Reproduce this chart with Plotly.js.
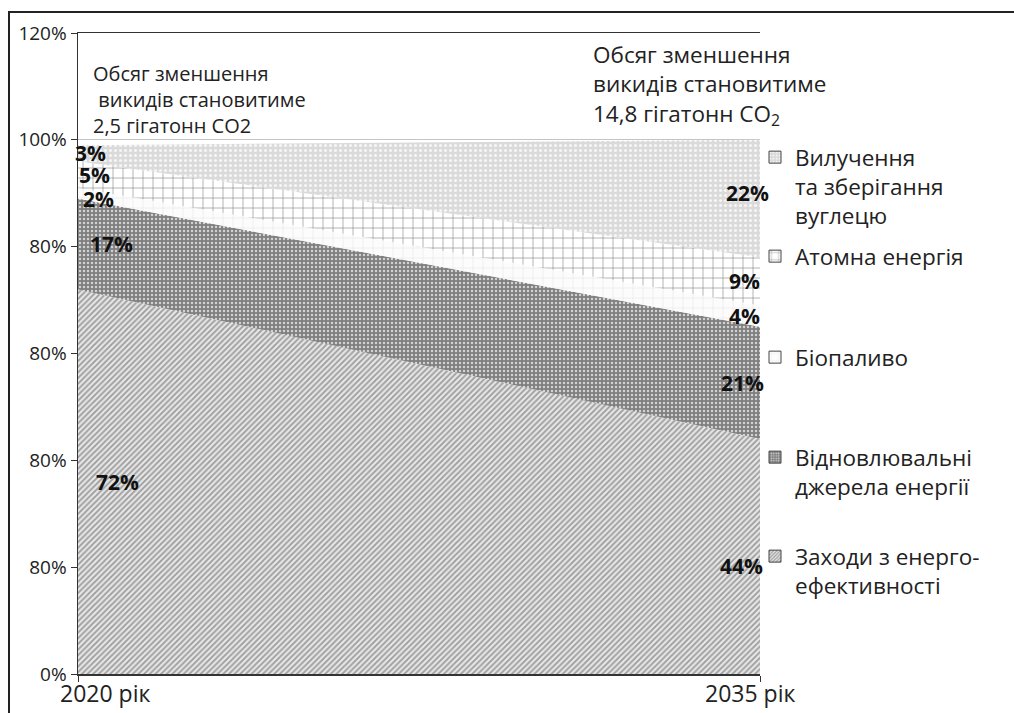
<!DOCTYPE html>
<html>
<head>
<meta charset="utf-8">
<script src="https://cdn.plot.ly/plotly-3.0.1.min.js"></script>
<style>
  html, body { margin: 0; padding: 0; background: #fff; overflow: hidden; }
  #wrap { position: relative; width: 1014px; height: 713px; }
  #chart { width: 1014px; height: 713px; }
  #frame { position: absolute; left: 8px; top: 11px; right: -4px; bottom: -4px;
           border-left: 2.5px solid #222; border-top: 2.5px solid #222; pointer-events: none; }
</style>
</head>
<body>
<div id="wrap"><div id="chart"></div><div id="frame"></div></div>
<script>
// ---- data ----
const years = [2020, 2035];
const efficiency = [72, 44];   // Заходи з енергоефективності
const renewables = [17, 21];   // Відновлювальні джерела енергії
const biofuel = [2, 4];        // Біопаливо
const nuclear = [5, 9];        // Атомна енергія
const ccs = [3, 22];           // Вилучення та зберігання вуглецю

const seriesNames = [
  'Заходи з енерго-<br>ефективності',
  'Відновлювальні<br>джерела енергії',
  'Біопаливо',
  'Атомна енергія',
  'Вилучення<br>та зберігання<br>вуглецю'
];
const seriesValues = [efficiency, renewables, biofuel, nuclear, ccs];

const yTickVals = [0, 20, 40, 60, 80, 100, 120];
const yTickText = ['0%', '80%', '80%', '80%', '80%', '100%', '120%'];
const xTickText = ['2020 рік', '2035 рік'];

const noteLeft = 'Обсяг зменшення<br> викидів становитиме<br>2,5 гігатонн CO2';
const noteRight = 'Обсяг зменшення<br>викидів становитиме<br>14,8 гігатонн CO<sub>2</sub>';

// ---- styles ----
const FONT = 'Open Sans, Noto Sans, DejaVu Sans, sans-serif';
const patterns = [
  {shape: '/', fgcolor: '#9c9c9c', bgcolor: '#e6e6e6', size: 4, solidity: 0.45},
  {shape: '.', fgcolor: '#d2d2d2', bgcolor: '#7f7f7f', size: 4, solidity: 0.3},
  {shape: '+', fgcolor: '#e6e6e6', bgcolor: '#fcfcfc', size: 10, solidity: 0.12},
  {shape: '+', fgcolor: '#858585', bgcolor: '#ffffff', size: 10, solidity: 0.12},
  {shape: '.', fgcolor: '#f6f6f6', bgcolor: '#dadada', size: 5, solidity: 0.3}
];
// label offsets (pixels) per series [left, right]
const labelXShift = [[39, -19], [33, -18], [20, -16], [16, -16], [12, -13]];
const labelYShift = [[0, -10], [0, 0], [-6, 0], [0, 0], [0, 6]];
// legend first-line pixel rows
const legendRows = [557, 458, 358, 257, 158];

// ---- geometry helpers ----
const W = 1014, H = 713;
const M = {l: 78, r: 254, t: 33, b: 39};
const PW = W - M.l - M.r, PH = H - M.t - M.b;
const PX = px => (px - M.l) / PW;
const PY = py => (H - M.b - py) / PH;

const traces = [];
seriesValues.forEach((vals, i) => {
  traces.push({
    type: 'scatter', mode: 'lines', x: years, y: vals,
    stackgroup: 'one', name: seriesNames[i], showlegend: false,
    line: {width: 0}, fillcolor: patterns[i].bgcolor,
    fillpattern: patterns[i], hoverinfo: 'skip'
  });
});
// legend entries
seriesValues.forEach((vals, i) => {
  traces.push({
    type: 'bar', x: [null], y: [null], name: seriesNames[i],
    legend: i === 0 ? 'legend' : 'legend' + (i + 1),
    marker: {color: patterns[i].bgcolor, line: {color: '#444', width: 1},
             pattern: Object.assign({}, patterns[i], {size: Math.max(3, patterns[i].size - 1)})},
    hoverinfo: 'skip'
  });
});

const annotations = [];
// percentage labels at cumulative midpoints
const cum = [0, 0];
seriesValues.forEach((vals, i) => {
  vals.forEach((v, j) => {
    annotations.push({
      xref: 'x', yref: 'y', x: years[j], y: cum[j] + v / 2,
      xshift: labelXShift[i][j], yshift: labelYShift[i][j],
      text: '<b>' + v + '%</b>', showarrow: false,
      font: {family: FONT, size: 21, color: '#111'}
    });
  });
  vals.forEach((v, j) => { cum[j] += v; });
});
// x tick labels
annotations.push({xref: 'x', yref: 'paper', x: years[0], y: PY(693), xshift: 27, yanchor: 'middle',
  text: xTickText[0], showarrow: false, font: {family: FONT, size: 23, color: '#222'}});
annotations.push({xref: 'x', yref: 'paper', x: years[1], y: PY(693), xshift: -10, yanchor: 'middle',
  text: xTickText[1], showarrow: false, font: {family: FONT, size: 23, color: '#222'}});
// notes
annotations.push({xref: 'paper', yref: 'paper', x: PX(91), y: PY(58), xanchor: 'left', yanchor: 'top',
  align: 'left', text: noteLeft, showarrow: false, font: {family: FONT, size: 20, color: '#222'}});
annotations.push({xref: 'paper', yref: 'paper', x: PX(591), y: PY(37), xanchor: 'left', yanchor: 'top',
  align: 'left', text: noteRight, showarrow: false, font: {family: FONT, size: 22.5, color: '#222'}});

const layout = {
  width: W, height: H,
  margin: M,
  paper_bgcolor: '#fff', plot_bgcolor: '#fff',
  font: {family: FONT, color: '#222'},
  showlegend: true,
  xaxis: {
    type: 'linear', range: [years[0], years[1]], tickvals: years, showticklabels: false,
    ticks: 'outside', ticklen: 6, tickcolor: '#333', showgrid: false, zeroline: false,
    showline: true, linecolor: '#333', linewidth: 1.5, mirror: true, fixedrange: true
  },
  yaxis: {
    range: [0, 120], tickvals: yTickVals, ticktext: yTickText,
    ticks: 'outside', ticklen: 6, tickcolor: '#333',
    tickfont: {family: FONT, size: 19, color: '#222'},
    showgrid: true, gridcolor: '#c4c4c4', gridwidth: 1, zeroline: false,
    showline: true, linecolor: '#333', linewidth: 1.5, fixedrange: true
  },
  annotations: annotations
};
legendRows.forEach((row, i) => {
  const key = i === 0 ? 'legend' : 'legend' + (i + 1);
  layout[key] = {
    x: PX(755), xanchor: 'left', y: PY(row - 22), yanchor: 'top',
    valign: 'top', bgcolor: 'rgba(0,0,0,0)', borderwidth: 0,
    font: {family: FONT, size: 22.5, color: '#222'}
  };
});

Plotly.newPlot('chart', traces, layout, {staticPlot: true, displayModeBar: false});
</script>
</body>
</html>
